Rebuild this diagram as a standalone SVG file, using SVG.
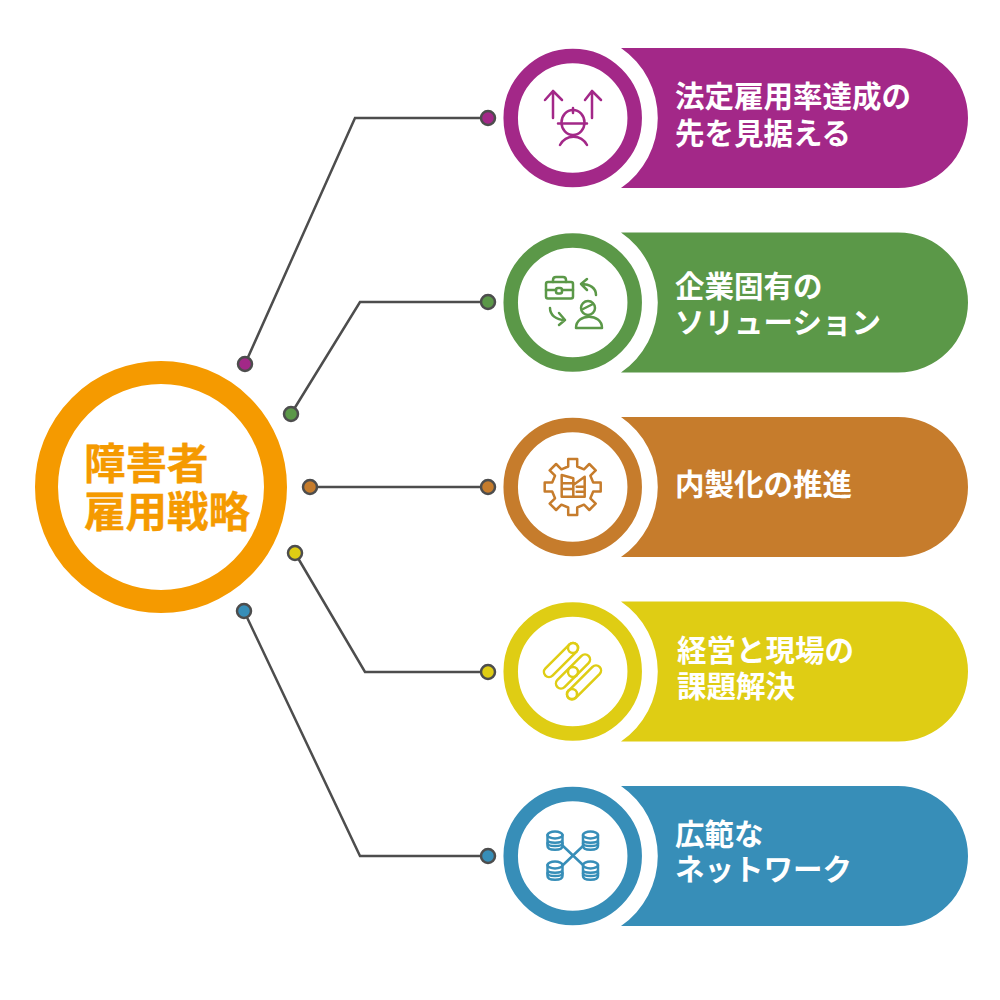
<svg xmlns="http://www.w3.org/2000/svg" width="1000" height="1000" viewBox="0 0 1000 1000">
<style>
text{font-family:"Noto Sans CJK JP","Noto Sans",sans-serif;font-weight:700}
.t{font-size:29.5px;fill:#fff}
.c{font-size:41.5px;fill:#F59A00;stroke:#F59A00;stroke-width:.4}
.link{fill:none;stroke:#4d4d4d;stroke-width:2.5}
.dot{stroke:#4d4d4d;stroke-width:2.5}
.ring{fill:#fff;stroke-width:14.5}
.ic{fill:none;stroke-width:2.5;stroke-linecap:round;stroke-linejoin:round}
.pu{fill:#A32888}.gr{fill:#5B9848}.br{fill:#C67C2C}.ye{fill:#DFCD14}.bl{fill:#378EB8}
</style>
<defs>
<path id="pill" d="M621 -70H898A70 70 0 0 1 898 70H621A85 85 0 0 0 621 -70Z"/>
<g id="db"><path d="M-7.500 -5.500V5.500C-7.500 10.500 7.500 10.500 7.500 5.500V-5.500M-7.500 -0.500C-7.500 3 7.500 3 7.500 -0.500"/><ellipse cx="0" cy="-5.500" rx="7.500" ry="3.500"/><path d="M-7.500 2.800C-7.500 6.500 7.500 6.500 7.500 2.800"/></g>
<rect id="cap" x="-22" y="-5" width="44" height="10" rx="5"/>
</defs>
<rect width="1000" height="1000" fill="#fff"/>
<g id="connectors">
<path class="link" d="M245 364L355 118H488"/>
<path class="link" d="M291 414L360 302H488"/>
<path class="link" d="M310 487H488"/>
<path class="link" d="M295 553L365 672H488"/>
<path class="link" d="M244 611L360 856H488"/>
<circle class="dot pu" cx="245" cy="364" r="7"/><circle class="dot pu" cx="488" cy="118" r="7"/>
<circle class="dot gr" cx="291" cy="414" r="7"/><circle class="dot gr" cx="488" cy="302" r="7"/>
<circle class="dot br" cx="310" cy="487" r="7"/><circle class="dot br" cx="488" cy="487" r="7"/>
<circle class="dot ye" cx="295" cy="553" r="7"/><circle class="dot ye" cx="488" cy="672" r="7"/>
<circle class="dot bl" cx="244" cy="611" r="7"/><circle class="dot bl" cx="488" cy="856" r="7"/>
</g>
<g id="center">
<circle cx="161" cy="487" r="114.500" fill="#fff" stroke="#F59A00" stroke-width="23"/>
<text class="c" x="84" y="479">障害者</text>
<text class="c" x="84" y="527">雇用戦略</text>
</g>
<g id="node1">
<use href="#pill" y="118" class="pu"/>
<circle class="ring" cx="572.700" cy="118" r="62" stroke="#A32888"/>
<g class="ic" stroke="#A32888">
<path d="M553 118V91M545 100L553 91L562 100M592 118V91M585 100L592 91L601 100"/>
<ellipse cx="573" cy="122.500" rx="11.500" ry="12.500"/>
<path d="M558 123.500H587M573 108V113M560 145C566 134 581 134 587 145"/>
</g>
<text class="t" x="675" y="107">法定雇用率達成の</text>
<text class="t" x="675" y="144">先を見据える</text>
</g>
<g id="node2">
<use href="#pill" y="302.500" class="gr"/>
<circle class="ring" cx="572.700" cy="302.500" r="62" stroke="#5B9848"/>
<g class="ic" stroke="#5B9848">
<rect x="546" y="282" width="27" height="16.500" rx="2"/>
<path d="M553 282V280Q553 277 556 277H563Q566 277 566 280V282M546 290H556M562 290H573"/>
<rect x="556" y="288" width="6" height="5.500" rx="2"/>
<path d="M596 295C596 288 590 284 581 284M587 279L581 284L587 290"/>
<path d="M550 308C550 315 556 320 565 320M559 313L565 320L559 325"/>
<circle cx="588" cy="308" r="7"/>
<path d="M583 309L593 304M576 328C576 313 602 313 602 328Z"/>
</g>
<text class="t" x="675" y="297">企業固有の</text>
<text class="t" x="675" y="333">ソリューション</text>
</g>
<g id="node3">
<use href="#pill" y="487" class="br"/>
<circle class="ring" cx="572.700" cy="487" r="62" stroke="#C67C2C"/>
<g class="ic" stroke="#C67C2C" transform="translate(572.700 487)">
<path d="M-4.500 -28H4.500V-20.500L11.300 -17.700L16.600 -23L23 -16.600L17.700 -11.300L20.500 -4.500H28V4.500H20.500L17.700 11.300L23 16.600L16.600 23L11.300 17.700L4.500 20.500V28H-4.500V20.500L-11.300 17.700L-16.600 23L-23 16.600L-17.700 11.300L-20.500 4.500H-28V-4.500H-20.500L-17.700 -11.300L-23 -16.600L-16.600 -23L-11.300 -17.700L-4.500 -20.500Z"/>
<path d="M-11 -12L0.600 -8.700V9.700M-11 -12V9.700H12V-10.300L0.600 -2M-11 -3.700H0.600M-11 2H0.600M4 -0.300H12M4 4.700H12"/>
</g>
<text class="t" x="675" y="495">内製化の推進</text>
</g>
<g id="node4">
<use href="#pill" y="671.500" class="ye"/>
<circle class="ring" cx="572.700" cy="671.500" r="62" stroke="#DFCD14"/>
<g class="ic" stroke="#DFCD14">
<use href="#cap" transform="translate(561 660) rotate(-45)"/>
<use href="#cap" transform="translate(573 671.500) rotate(-45)"/>
<use href="#cap" transform="translate(584 682.500) rotate(-45)"/>
<circle cx="573" cy="648" r="5"/><circle cx="573" cy="672" r="5"/><circle cx="572" cy="694" r="5"/>
</g>
<text class="t" x="677" y="661">経営と現場の</text>
<text class="t" x="677" y="697">課題解決</text>
</g>
<g id="node5">
<use href="#pill" y="856" class="bl"/>
<circle class="ring" cx="572.700" cy="856" r="62" stroke="#378EB8"/>
<g class="ic" stroke="#378EB8">
<path d="M563 846L583 865M583 846L563 865"/>
<use href="#db" x="555" y="840.500"/><use href="#db" x="590.500" y="840.500"/><use href="#db" x="555" y="870.500"/><use href="#db" x="590.500" y="870.500"/>
</g>
<text class="t" x="675" y="845">広範な</text>
<text class="t" x="675" y="880">ネットワーク</text>
</g>
</svg>
